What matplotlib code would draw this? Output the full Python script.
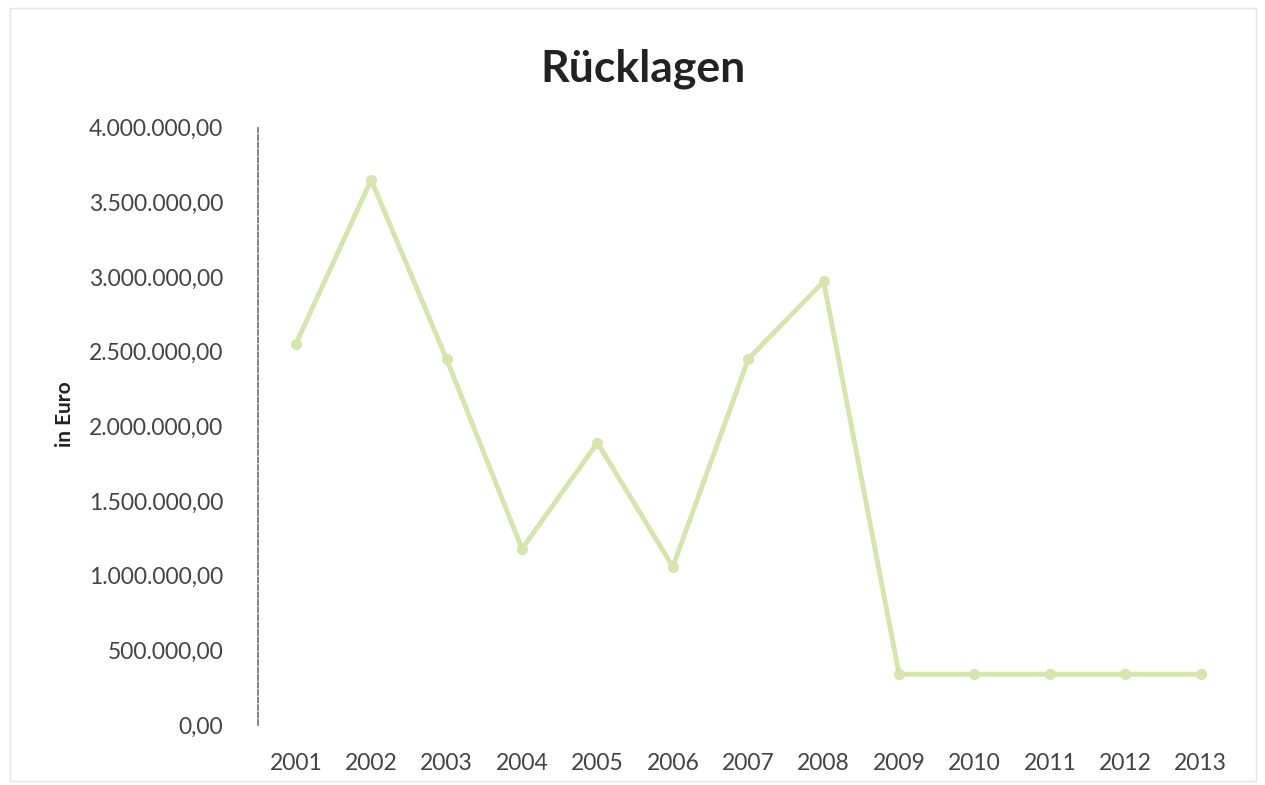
import matplotlib.pyplot as plt
from matplotlib.ticker import FuncFormatter

years = ["2001", "2002", "2003", "2004", "2005", "2006", "2007",
         "2008", "2009", "2010", "2011", "2012", "2013"]
reserves = [2550000, 3650000, 2450000, 1180000, 1890000, 1060000, 2450000,
            2970000, 340000, 340000, 340000, 340000, 340000]
y_ticks = [0, 500000, 1000000, 1500000, 2000000, 2500000, 3000000, 3500000, 4000000]

plt.rcParams["font.family"] = ["Lato", "DejaVu Sans"]


def euro_fmt(v, _pos):
    s = f"{v:,.2f}"
    return s.replace(",", "X").replace(".", ",").replace("X", ".")


fig = plt.figure(figsize=(12.65, 7.85), dpi=100)
ax = fig.add_axes([0.204, 0.0764, 0.775, 0.761])

x = range(len(years))
ax.plot(x, reserves, color="#d6e5ad", linewidth=3.5, marker="o",
        markersize=7, markerfacecolor="#d6e5ad", markeredgecolor="#d6e5ad")

ax.set_xlim(-0.5, len(years) - 0.5)
ax.set_ylim(0, 4000000)
ax.set_xticks(list(x))
ax.set_xticklabels(years)
ax.set_yticks(y_ticks)
ax.yaxis.set_major_formatter(FuncFormatter(euro_fmt))
ax.tick_params(axis="both", length=0, labelsize=16.5, colors="#444444")
ax.tick_params(axis="y", pad=25)
ax.tick_params(axis="x", pad=20)

for side in ("top", "right", "bottom"):
    ax.spines[side].set_visible(False)
ax.spines["left"].set_color("#707070")
ax.spines["left"].set_linestyle((0, (3, 1.5)))
ax.spines["left"].set_linewidth(1.2)

ax.set_ylabel("in Euro", fontsize=15, fontweight="bold", color="#222222")
ax.yaxis.set_label_coords(-0.187, 0.52)
fig.text(0.508, 0.912, "Rücklagen", ha="center", va="center",
         fontsize=32, fontweight="bold", color="#222222")

fig.patches.append(plt.Rectangle((0.008, 0.005), 0.985, 0.985,
                                 transform=fig.transFigure, fill=False,
                                 edgecolor="#e4e4e4", linewidth=1))

fig.savefig("out.png", dpi=100)
